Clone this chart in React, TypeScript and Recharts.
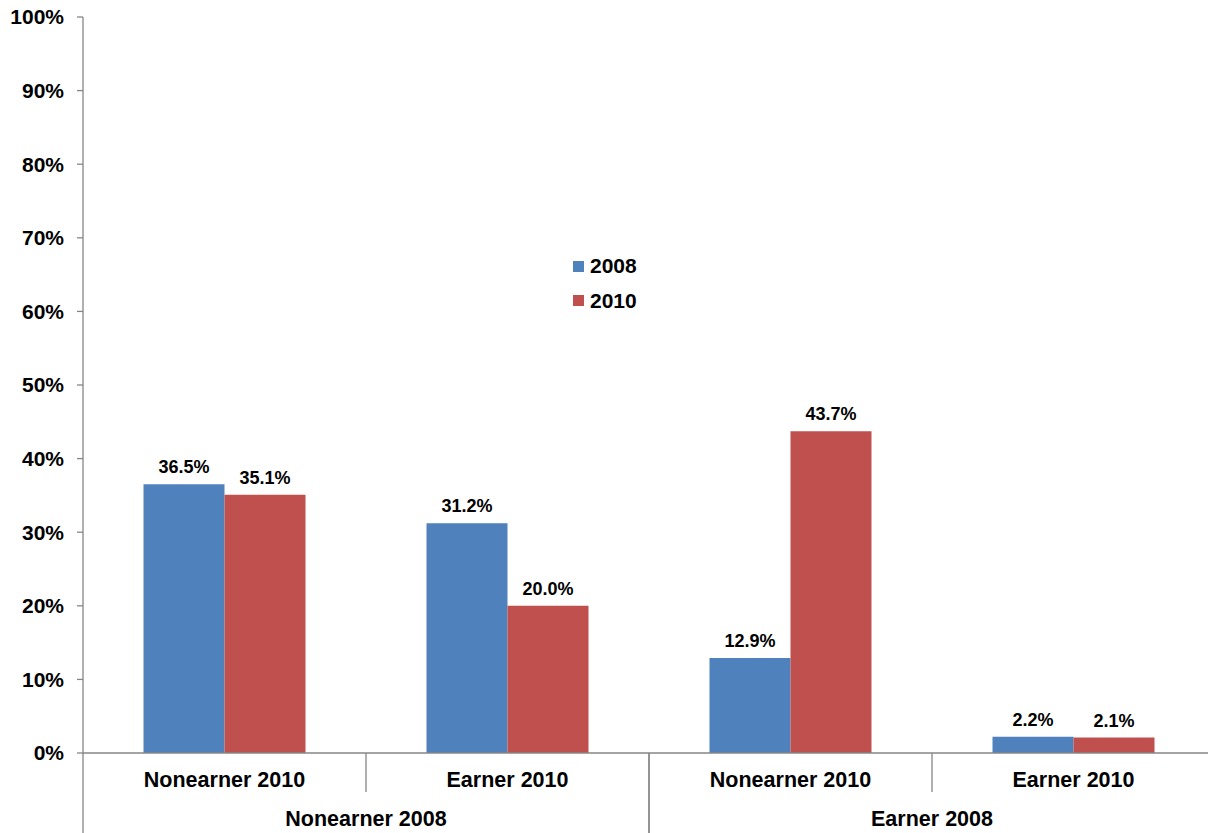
import React from 'react';
import { BarChart, Bar, XAxis, YAxis, Legend, LabelList } from 'recharts';

const subCategories = ['Nonearner 2010', 'Earner 2010', 'Nonearner 2010', 'Earner 2010'];
const groups = ['Nonearner 2008', 'Nonearner 2008', 'Earner 2008', 'Earner 2008'];
const values2008 = [36.5, 31.2, 12.9, 2.2];
const values2010 = [35.1, 20.0, 43.7, 2.1];
const yTicks = [0, 10, 20, 30, 40, 50, 60, 70, 80, 90, 100];

const data = subCategories.map((sub, i) => ({
  key: `${i}`,
  sub,
  group: groups[i],
  v2008: values2008[i],
  v2010: values2010[i],
}));

const FONT = '"Liberation Sans", Arial, sans-serif';
const AXIS = '#868686';
const CHART_W = 1216;
const MARGIN_L = 0;
const MARGIN_R = 1;
const YAXIS_W = 83;
const PLOT_W = CHART_W - MARGIN_L - MARGIN_R - YAXIS_W;
const SUB_BAND = PLOT_W / subCategories.length;
const GROUP_BAND = PLOT_W / 2;

const SubTick = (props: any) => {
  const { x, y, payload, index } = props;
  const label = data[Number(payload.value)]?.sub ?? '';
  const left = x - SUB_BAND / 2;
  const isGroupStart = index % 2 === 0;
  return (
    <g>
      {!isGroupStart && (
        <line x1={left} x2={left} y1={y} y2={y + 39} stroke={AXIS} strokeWidth={1.3} />
      )}
      <text x={x} y={y + 34} textAnchor="middle" fontFamily={FONT} fontWeight="bold" fontSize={21.5} fill="#000">
        {label}
      </text>
    </g>
  );
};

const GroupTick = (props: any) => {
  const { x, y, payload } = props;
  const left = x - GROUP_BAND / 2;
  const right = x + GROUP_BAND / 2;
  return (
    <g>
      <line x1={left} x2={left} y1={y - 38} y2={y + 45} stroke={AXIS} strokeWidth={1.3} />
      <line x1={right} x2={right} y1={y - 38} y2={y + 45} stroke={AXIS} strokeWidth={1.3} />
      <text x={x} y={y + 35} textAnchor="middle" fontFamily={FONT} fontWeight="bold" fontSize={21.5} fill="#000">
        {payload.value}
      </text>
    </g>
  );
};

const LegendContent = (props: any) => {
  const { payload } = props;
  return (
    <div style={{ position: 'relative', width: 0, height: 0 }}>
      <div
        style={{
          position: 'absolute',
          left: 0,
          top: 0,
          width: 120,
          fontFamily: FONT,
          fontWeight: 'bold',
          fontSize: 21,
          color: '#000',
        }}
      >
        {(payload || []).map((p: any) => (
          <div key={p.value} style={{ display: 'flex', alignItems: 'center', height: 34.5 }}>
            <span style={{ display: 'inline-block', width: 11, height: 11, background: p.color, marginRight: 6 }} />
            <span style={{ lineHeight: '24px' }}>{p.value}</span>
          </div>
        ))}
      </div>
    </div>
  );
};

export default function App() {
  return (
    <div style={{ position: 'absolute', left: 0, top: 0, width: 1208, height: 833, overflow: 'hidden', background: '#fff' }}>
      <BarChart
        width={CHART_W}
        height={833}
        data={data}
        margin={{ top: 17, right: MARGIN_R, left: MARGIN_L, bottom: 0 }}
        barGap={0}
        barCategoryGap={60.5}
      >
        <YAxis
          width={YAXIS_W}
          domain={[0, 100]}
          ticks={yTicks}
          interval={0}
          tickFormatter={(v: number) => `${v}%`}
          axisLine={{ stroke: AXIS, strokeWidth: 1.3 }}
          tickLine={{ stroke: AXIS, strokeWidth: 1.3 }}
          tickSize={6}
          tickMargin={13}
          tick={{ fontFamily: FONT, fontWeight: 'bold', fontSize: 21, fill: '#000' }}
        />
        <XAxis
          dataKey="key"
          height={38}
          interval={0}
          axisLine={{ stroke: AXIS, strokeWidth: 1.3 }}
          tickLine={false}
          tickSize={0}
          tickMargin={0}
          tick={<SubTick />}
        />
        <XAxis
          xAxisId="group"
          dataKey="group"
          allowDuplicatedCategory={false}
          height={42}
          interval={0}
          axisLine={false}
          tickLine={false}
          tickSize={0}
          tickMargin={0}
          tick={<GroupTick />}
        />
        <Legend
          layout="vertical"
          content={<LegendContent />}
          wrapperStyle={{ position: 'absolute', left: 573, top: 249, width: 0, height: 0 }}
        />
        <Bar dataKey="v2008" name="2008" fill="#4F81BD" isAnimationActive={false}>
          <LabelList
            dataKey="v2008"
            position="top"
            offset={11}
            formatter={(v: number) => `${v.toFixed(1)}%`}
            style={{ fontFamily: FONT, fontWeight: 'bold', fontSize: 18, fill: '#000' }}
          />
        </Bar>
        <Bar dataKey="v2010" name="2010" fill="#C0504D" isAnimationActive={false}>
          <LabelList
            dataKey="v2010"
            position="top"
            offset={11}
            formatter={(v: number) => `${v.toFixed(1)}%`}
            style={{ fontFamily: FONT, fontWeight: 'bold', fontSize: 18, fill: '#000' }}
          />
        </Bar>
      </BarChart>
    </div>
  );
}
